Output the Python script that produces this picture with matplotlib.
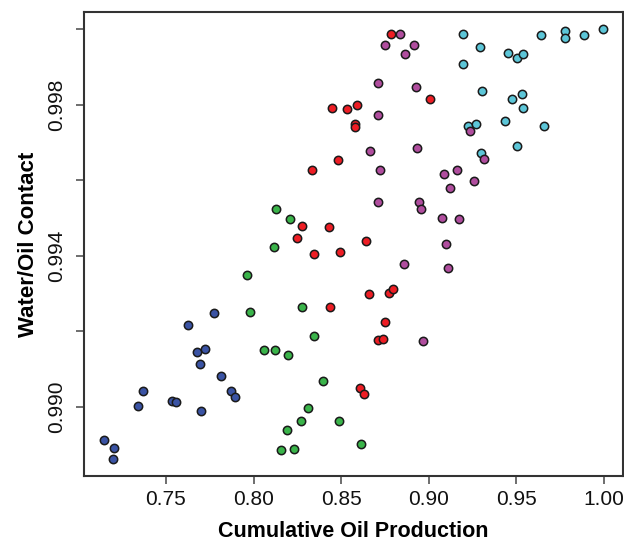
import matplotlib
matplotlib.use("Agg")
import matplotlib.pyplot as plt

plt.rcParams['font.family'] = ['Liberation Sans', 'DejaVu Sans']

# group 1 (blue)
blue_x = [0.7774, 0.7624, 0.7679, 0.7723, 0.7694, 0.7816, 0.7871, 0.7894,
          0.7367, 0.7340, 0.7534, 0.7559, 0.7701, 0.7148, 0.7201, 0.7199]
blue_y = [0.99248, 0.99217, 0.99146, 0.99153, 0.99114, 0.99082, 0.99042, 0.99026,
          0.99042, 0.99003, 0.99017, 0.99012, 0.98989, 0.98913, 0.98891, 0.98862]

# group 2 (green)
green_x = [0.8128, 0.8208, 0.8116, 0.7962, 0.7979, 0.8276, 0.8346, 0.8059, 0.8122,
           0.8196, 0.8396, 0.8312, 0.8269, 0.8488, 0.8191, 0.8156, 0.8231, 0.8613]
green_y = [0.99524, 0.99497, 0.99424, 0.99348, 0.99252, 0.99264, 0.99187, 0.99151, 0.99150,
           0.99137, 0.99070, 0.98998, 0.98963, 0.98963, 0.98938, 0.98885, 0.98888, 0.98902]

# group 3 (red)
red_x = [0.8783, 0.9007, 0.8448, 0.8533, 0.8592, 0.8581, 0.8579, 0.8483, 0.8333, 0.8278,
         0.8430, 0.8249, 0.8643, 0.8345, 0.8495, 0.8657, 0.8771, 0.8796, 0.8436, 0.8752,
         0.8712, 0.8739, 0.8609, 0.8630]
red_y = [0.99988, 0.99815, 0.99791, 0.99789, 0.99798, 0.99748, 0.99740, 0.99654, 0.99627, 0.99479,
         0.99475, 0.99448, 0.99440, 0.99406, 0.99411, 0.99300, 0.99301, 0.99313, 0.99265, 0.99224,
         0.99176, 0.99179, 0.99051, 0.99034]

# group 4 (purple)
purple_x = [0.8836, 0.8752, 0.8914, 0.8862, 0.8708, 0.8925, 0.8708, 0.8663, 0.8933, 0.8723,
            0.9087, 0.8708, 0.8942, 0.8956, 0.9075, 0.9235, 0.9315, 0.9161, 0.9256, 0.9123,
            0.9171, 0.9098, 0.9111, 0.8860, 0.8967]
purple_y = [0.99988, 0.99958, 0.99958, 0.99935, 0.99857, 0.99847, 0.99773, 0.99678, 0.99686, 0.99626,
            0.99616, 0.99543, 0.99543, 0.99523, 0.99501, 0.99730, 0.99655, 0.99627, 0.99599, 0.99580,
            0.99497, 0.99431, 0.99369, 0.99378, 0.99175]

# group 5 (cyan)
cyan_x = [0.9194, 0.9642, 0.9776, 0.9778, 0.9886, 0.9996, 0.9294, 0.9450, 0.9502, 0.9538,
          0.9194, 0.9304, 0.9473, 0.9532, 0.9538, 0.9433, 0.9658, 0.9226, 0.9271, 0.9502, 0.9300]
cyan_y = [0.99988, 0.99985, 0.99995, 0.99977, 0.99985, 1.00000, 0.99952, 0.99937, 0.99924, 0.99933,
          0.99907, 0.99835, 0.99815, 0.99827, 0.99792, 0.99757, 0.99744, 0.99743, 0.99748, 0.99690, 0.99673]

x_ticks = [0.75, 0.80, 0.85, 0.90, 0.95, 1.00]
x_labels = ["0.75", "0.80", "0.85", "0.90", "0.95", "1.00"]
y_ticks = [0.990, 0.992, 0.994, 0.996, 0.998, 1.000]
y_labels = ["0.990", "", "0.994", "", "0.998", ""]

fig = plt.figure(figsize=(6.24, 5.47), dpi=100)
ax = fig.add_axes([84 / 624, 1 - 476 / 547, (623 - 84) / 624, (476 - 12) / 547])

groups = [
    (blue_x, blue_y, "#3A53A4"),
    (green_x, green_y, "#3AB44A"),
    (red_x, red_y, "#EE1D24"),
    (cyan_x, cyan_y, "#5CC6D8"),
    (purple_x, purple_y, "#B04D9E"),
]
for gx, gy, col in groups:
    ax.scatter(gx, gy, s=36, c=col, edgecolors="#1a1a1a", linewidths=1.1, zorder=3)

ax.set_xlim(0.7032, 1.0109)
ax.set_ylim(0.988175, 1.00045)
ax.set_xticks(x_ticks)
ax.set_xticklabels(x_labels)
ax.set_yticks(y_ticks)
ax.set_yticklabels(y_labels, rotation=90, va="center")

for s in ax.spines.values():
    s.set_linewidth(1.5)
    s.set_color("#333333")

ax.tick_params(axis="both", direction="out", length=6, width=1.2, color="#555555",
               labelsize=15, labelcolor="#111111")
ax.tick_params(axis="x", pad=4)
ax.tick_params(axis="y", pad=7)

ax.set_xlabel("Cumulative Oil Production", fontsize=15.5, fontweight="bold", labelpad=9)
ax.set_ylabel("Water/Oil Contact", fontsize=16, fontweight="bold", labelpad=6)

fig.savefig("out.png", dpi=100)
